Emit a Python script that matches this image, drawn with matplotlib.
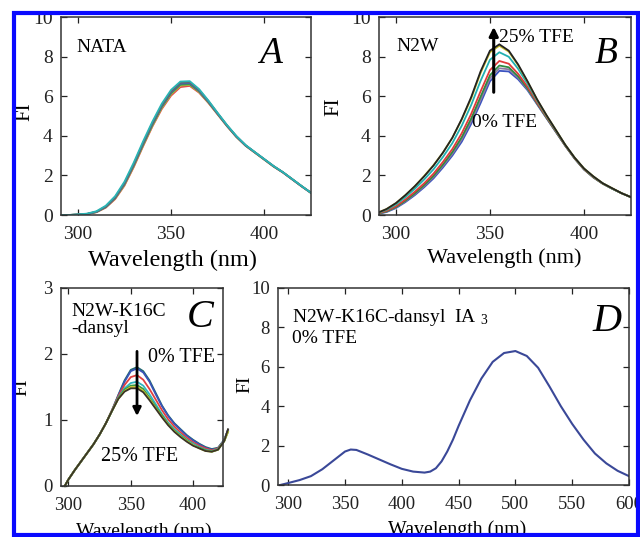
import matplotlib
matplotlib.use('Agg')
import matplotlib.pyplot as plt
from matplotlib.patches import Rectangle

plt.rcParams['font.family'] = ['Liberation Serif', 'DejaVu Serif']
plt.rcParams['mathtext.fontset'] = 'stix'

# ---- data ----
# panels A and B: wavelength grid (nm)
wl_ab = [290, 295, 300, 305, 310, 315, 320, 325, 330, 335, 340, 345, 350, 355,
         360, 365, 370, 375, 380, 385, 390, 395, 400, 405, 410, 415, 420, 425]

# A: NATA, six nearly identical spectra
nata_fi = [
    [0.0, 0.0, 0.02, 0.05, 0.14, 0.37, 0.8, 1.48, 2.42, 3.47, 4.47, 5.35, 6.03, 6.46, 6.52, 6.18, 5.66, 5.07, 4.48, 3.94, 3.49, 3.14, 2.79, 2.44, 2.14, 1.79, 1.44, 1.11],
    [0.0, 0.0, 0.02, 0.05, 0.15, 0.39, 0.83, 1.52, 2.47, 3.52, 4.51, 5.41, 6.1, 6.54, 6.57, 6.22, 5.68, 5.09, 4.5, 3.95, 3.5, 3.15, 2.8, 2.45, 2.15, 1.8, 1.45, 1.12],
    [0.0, 0.0, 0.02, 0.05, 0.15, 0.4, 0.85, 1.55, 2.5, 3.55, 4.55, 5.45, 6.14, 6.58, 6.6, 6.24, 5.7, 5.1, 4.5, 3.95, 3.5, 3.15, 2.8, 2.45, 2.15, 1.8, 1.45, 1.12],
    [0.0, 0.0, 0.02, 0.05, 0.16, 0.41, 0.87, 1.58, 2.54, 3.6, 4.6, 5.5, 6.2, 6.64, 6.66, 6.28, 5.72, 5.11, 4.51, 3.96, 3.51, 3.16, 2.81, 2.46, 2.15, 1.8, 1.45, 1.12],
    [0.0, 0.0, 0.02, 0.06, 0.17, 0.43, 0.9, 1.62, 2.58, 3.64, 4.64, 5.54, 6.24, 6.68, 6.7, 6.32, 5.76, 5.14, 4.53, 3.98, 3.52, 3.17, 2.82, 2.47, 2.16, 1.81, 1.46, 1.12],
    [0.0, 0.0, 0.03, 0.07, 0.19, 0.47, 0.95, 1.68, 2.65, 3.72, 4.72, 5.62, 6.32, 6.74, 6.76, 6.36, 5.78, 5.15, 4.54, 3.99, 3.53, 3.17, 2.82, 2.47, 2.16, 1.81, 1.46, 1.12],
]
nata_colors = ['#e04848', '#c8c040', '#3a9a4a', '#4a5ac0', '#666666', '#28b4b4']

# B: N2W, 0% TFE (first) to 25% TFE (last)
n2w_fi = [
    [0.05, 0.15, 0.35, 0.65, 1.0, 1.4, 1.85, 2.4, 3.0, 3.7, 4.6, 5.65, 6.75, 7.28, 7.25, 6.85, 6.3, 5.6, 4.9, 4.2, 3.5, 2.85, 2.3, 1.9, 1.58, 1.33, 1.1, 0.9],
    [0.06, 0.17, 0.38, 0.69, 1.05, 1.46, 1.92, 2.48, 3.09, 3.82, 4.74, 5.81, 6.91, 7.41, 7.36, 6.93, 6.35, 5.63, 4.92, 4.21, 3.5, 2.86, 2.3, 1.9, 1.58, 1.33, 1.1, 0.9],
    [0.06, 0.18, 0.4, 0.72, 1.09, 1.51, 1.98, 2.55, 3.18, 3.93, 4.87, 5.97, 7.06, 7.55, 7.46, 7.0, 6.39, 5.65, 4.93, 4.22, 3.51, 2.86, 2.31, 1.9, 1.58, 1.33, 1.1, 0.9],
    [0.07, 0.21, 0.44, 0.78, 1.17, 1.6, 2.09, 2.68, 3.33, 4.13, 5.1, 6.24, 7.32, 7.78, 7.64, 7.13, 6.47, 5.69, 4.96, 4.24, 3.52, 2.87, 2.32, 1.91, 1.59, 1.34, 1.1, 0.9],
    [0.09, 0.26, 0.53, 0.9, 1.32, 1.79, 2.31, 2.93, 3.63, 4.51, 5.55, 6.77, 7.84, 8.22, 7.99, 7.38, 6.62, 5.78, 5.01, 4.27, 3.54, 2.89, 2.34, 1.93, 1.6, 1.34, 1.1, 0.9],
    [0.1, 0.3, 0.6, 1.0, 1.45, 1.97, 2.52, 3.15, 3.9, 4.82, 5.88, 7.17, 8.22, 8.55, 8.25, 7.56, 6.73, 5.84, 5.04, 4.3, 3.55, 2.9, 2.35, 1.95, 1.6, 1.35, 1.1, 0.9],
    [0.1, 0.3, 0.6, 1.0, 1.45, 1.95, 2.5, 3.15, 3.9, 4.85, 5.95, 7.25, 8.3, 8.62, 8.3, 7.6, 6.75, 5.85, 5.05, 4.3, 3.55, 2.9, 2.35, 1.95, 1.6, 1.35, 1.1, 0.9],
]
n2w_colors = ['#3a52c0', '#8a7aa0', '#2f8a40', '#e03a3a', '#22b0b0', '#c4bc28', '#222222']

# C: N2W-K16C-dansyl, 0% TFE (first) to 25% TFE (last)
wl_c = [297, 300, 305, 310, 315, 320, 325, 330, 335, 340, 345, 350, 355, 360,
        365, 370, 375, 380, 385, 390, 395, 400, 405, 410, 415, 420, 425, 428]
dansyl_fi = [
    [0.0, 0.1, 0.24, 0.37, 0.5, 0.63, 0.78, 0.95, 1.15, 1.38, 1.6, 1.76, 1.8, 1.74, 1.6, 1.41, 1.22, 1.07, 0.95, 0.86, 0.77, 0.7, 0.64, 0.59, 0.56, 0.58, 0.7, 0.85],
    [0.0, 0.1, 0.24, 0.37, 0.5, 0.63, 0.78, 0.95, 1.15, 1.37, 1.58, 1.74, 1.78, 1.72, 1.58, 1.39, 1.21, 1.06, 0.94, 0.85, 0.76, 0.69, 0.63, 0.58, 0.55, 0.57, 0.7, 0.85],
    [0.0, 0.1, 0.24, 0.37, 0.5, 0.63, 0.78, 0.95, 1.15, 1.36, 1.53, 1.65, 1.68, 1.61, 1.47, 1.31, 1.15, 1.01, 0.9, 0.81, 0.73, 0.66, 0.61, 0.57, 0.54, 0.57, 0.69, 0.84],
    [0.0, 0.1, 0.24, 0.37, 0.5, 0.63, 0.78, 0.95, 1.14, 1.34, 1.48, 1.56, 1.58, 1.52, 1.39, 1.24, 1.09, 0.96, 0.86, 0.78, 0.7, 0.64, 0.59, 0.55, 0.53, 0.56, 0.69, 0.83],
    [0.0, 0.1, 0.24, 0.37, 0.5, 0.63, 0.78, 0.95, 1.14, 1.33, 1.46, 1.52, 1.53, 1.47, 1.34, 1.2, 1.07, 0.94, 0.84, 0.76, 0.69, 0.62, 0.58, 0.54, 0.52, 0.55, 0.68, 0.82],
    [0.0, 0.1, 0.24, 0.37, 0.5, 0.63, 0.78, 0.95, 1.14, 1.32, 1.44, 1.5, 1.5, 1.44, 1.32, 1.18, 1.05, 0.93, 0.83, 0.75, 0.68, 0.62, 0.57, 0.53, 0.52, 0.55, 0.68, 0.82],
    [0.0, 0.1, 0.24, 0.37, 0.5, 0.63, 0.78, 0.95, 1.14, 1.32, 1.43, 1.48, 1.48, 1.42, 1.3, 1.17, 1.04, 0.92, 0.82, 0.74, 0.67, 0.61, 0.57, 0.53, 0.52, 0.55, 0.68, 0.86],
]
dansyl_colors = ['#1e6a6a', '#3a52b8', '#e04040', '#30b4c0', '#3a9a40', '#c8c430', '#3a3428']

# D: N2W-K16C-dansyl IA3, 0% TFE
wl_d = [293, 300, 310, 320, 330, 340, 350, 355, 360, 370, 380, 390, 400, 410,
        420, 425, 430, 435, 440, 445, 450, 460, 470, 480, 490, 500, 510, 520,
        530, 540, 550, 560, 570, 580, 590, 600]
ia3_fi = [0.0, 0.1, 0.25, 0.45, 0.8, 1.25, 1.7, 1.8, 1.78, 1.55, 1.3, 1.05, 0.82, 0.68,
          0.63, 0.68, 0.85, 1.2, 1.7, 2.3, 3.0, 4.3, 5.4, 6.25, 6.7, 6.8, 6.55, 5.95,
          5.0, 4.0, 3.1, 2.3, 1.6, 1.1, 0.72, 0.45]


def style(ax, xlim, ylim, xticks, yticks, fs):
    ax.set_xlim(xlim)
    ax.set_ylim(ylim)
    ax.set_xticks(xticks)
    ax.set_yticks(yticks)
    ax.tick_params(direction='in', top=True, right=True, length=4, width=0.9,
                   labelsize=fs, colors='#222222')
    ax.tick_params(axis='x', pad=8)
    ax.tick_params(axis='y', pad=6)
    for s in ax.spines.values():
        s.set_linewidth(1.1)
        s.set_color('#333333')


fig = plt.figure(figsize=(6.4, 5.37), dpi=100)
W, H = 640.0, 537.0


def add_ax(l, r, t, b):
    return fig.add_axes([l / W, 1 - b / H, (r - l) / W, (b - t) / H])


# ---- A ----
axA = add_ax(61, 311, 17, 215)
for y, c in zip(nata_fi, nata_colors):
    axA.plot(wl_ab, y, color=c, lw=1.3)
style(axA, (291, 425), (0, 10), [300, 350, 400], [0, 2, 4, 6, 8, 10], 14)
axA.set_xlabel('Wavelength (nm)', fontsize=17.5, va='center')
axA.xaxis.set_label_coords(0.445, -0.227)
axA.set_ylabel('FI', fontsize=15, va='center')
axA.yaxis.set_label_coords(-0.144, 0.52)
axA.text(299, 8.45, 'NATA', fontsize=14, va='center')
axA.text(403.5, 8.15, 'A', fontsize=27, style='italic', ha='center', va='center')

# ---- B ----
axB = add_ax(379, 631, 17, 215)
for y, c in zip(n2w_fi, n2w_colors):
    axB.plot(wl_ab, y, color=c, lw=1.3)
style(axB, (291, 425), (0, 10), [300, 350, 400], [0, 2, 4, 6, 8, 10], 14)
axB.set_xlabel('Wavelength (nm)', fontsize=16, va='center')
axB.xaxis.set_label_coords(0.496, -0.217)
axB.set_ylabel('FI', fontsize=15, va='center')
axB.yaxis.set_label_coords(-0.179, 0.545)
axB.text(300, 8.5, 'N2W', fontsize=14, va='center')
axB.text(411.5, 8.15, 'B', fontsize=27, style='italic', ha='center', va='center')
axB.annotate('', xy=(352, 9.5), xytext=(352, 6.2),
             arrowprops=dict(arrowstyle='-|>', lw=2.2, color='black',
                             mutation_scale=13, shrinkA=0, shrinkB=0))
axB.text(355, 8.95, '25% TFE', fontsize=14, va='center')
axB.text(358, 4.65, '0% TFE', fontsize=14, ha='center', va='center')

# ---- C ----
axC = add_ax(61, 223, 288, 486)
for y, c in zip(dansyl_fi, dansyl_colors):
    axC.plot(wl_c, y, color=c, lw=1.3, clip_on=False)
style(axC, (294, 424), (0, 3), [300, 350, 400], [0, 1, 2, 3], 13.5)
axC.set_xlabel('Wavelength (nm)', fontsize=14, va='center')
axC.xaxis.set_label_coords(0.51, -0.227)
axC.set_ylabel('FI', fontsize=14, va='center')
axC.yaxis.set_label_coords(-0.24, 0.5)
axC.text(302, 2.65, 'N2W-K16C', fontsize=14, va='center')
axC.text(302, 2.38, '-dansyl', fontsize=14, va='center')
axC.text(406, 2.55, 'C', fontsize=29, style='italic', ha='center', va='center')
axC.annotate('', xy=(355, 1.06), xytext=(355, 2.04),
             arrowprops=dict(arrowstyle='-|>', lw=2.0, color='black',
                             mutation_scale=12, shrinkA=0, shrinkB=0))
axC.text(364, 1.94, '0% TFE', fontsize=14.5, va='center')
axC.text(357, 0.44, '25% TFE', fontsize=14.5, ha='center', va='center')

# ---- D ----
axD = add_ax(278, 629, 288, 485)
axD.plot(wl_d, ia3_fi, color='#3a4898', lw=1.5)
style(axD, (291, 600), (0, 10), [300, 350, 400, 450, 500, 550, 600],
      [0, 2, 4, 6, 8, 10], 13.5)
axD.set_xlabel('Wavelength (nm)', fontsize=14.3, va='center')
axD.xaxis.set_label_coords(0.51, -0.228)
axD.set_ylabel('FI', fontsize=14, va='center')
axD.yaxis.set_label_coords(-0.094, 0.51)
axD.text(303, 8.5, r'N2W-K16C-dansyl  IA $_{\mathregular{3}}$', fontsize=14, va='center')
axD.text(303, 7.45, '0% TFE', fontsize=14, va='center')
axD.text(581, 8.3, 'D', fontsize=29, style='italic', ha='center', va='center')

# blue frame round the whole figure
fig.add_artist(Rectangle((14 / W, 1 - 535 / H), (637.5 - 14) / W, (535 - 12.5) / H,
                         transform=fig.transFigure, fill=False,
                         edgecolor='#0a0aff', lw=3, zorder=10))

fig.savefig('out.png', dpi=100)
